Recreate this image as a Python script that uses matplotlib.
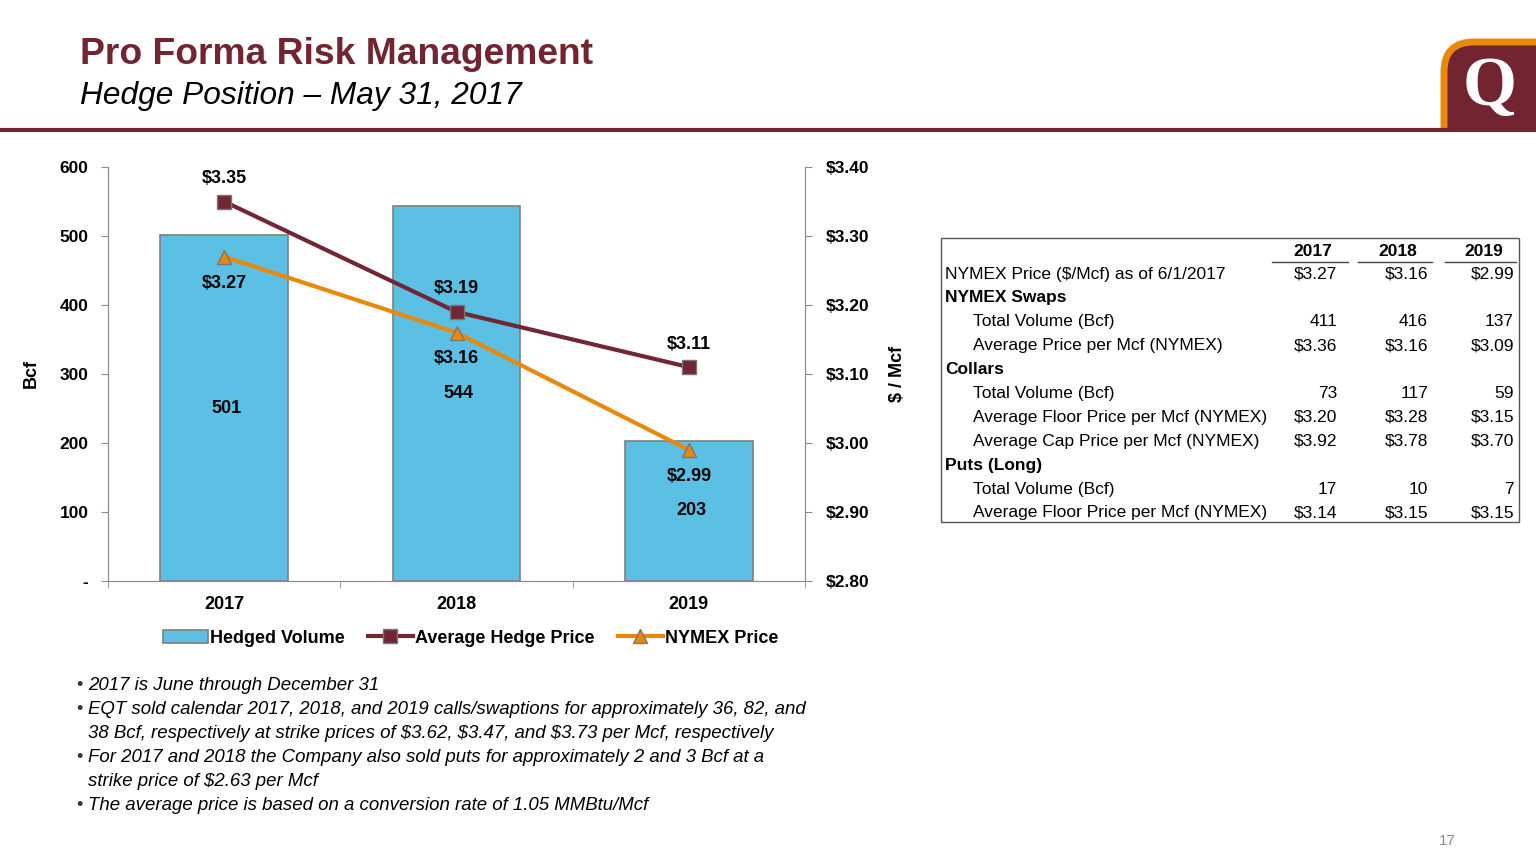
import matplotlib
matplotlib.use("Agg")
import matplotlib.pyplot as plt
from matplotlib.patches import FancyBboxPatch, Rectangle
from matplotlib.ticker import FuncFormatter

plt.rcParams['font.family'] = ['Liberation Sans', 'DejaVu Sans']

# chart data
years = ["2017", "2018", "2019"]
hedged_volume = [501, 544, 203]
avg_hedge_price = [3.35, 3.19, 3.11]
nymex_price = [3.27, 3.16, 2.99]

# table data
table_years = ["2017", "2018", "2019"]
table_rows = [
    ("NYMEX Price ($/Mcf) as of 6/1/2017", 0, ["$3.27", "$3.16", "$2.99"]),
    ("NYMEX Swaps", 1, None),
    ("Total Volume (Bcf)", 2, ["411", "416", "137"]),
    ("Average Price per Mcf (NYMEX)", 2, ["$3.36", "$3.16", "$3.09"]),
    ("Collars", 1, None),
    ("Total Volume (Bcf)", 2, ["73", "117", "59"]),
    ("Average Floor Price per Mcf (NYMEX)", 2, ["$3.20", "$3.28", "$3.15"]),
    ("Average Cap Price per Mcf (NYMEX)", 2, ["$3.92", "$3.78", "$3.70"]),
    ("Puts (Long)", 1, None),
    ("Total Volume (Bcf)", 2, ["17", "10", "7"]),
    ("Average Floor Price per Mcf (NYMEX)", 2, ["$3.14", "$3.15", "$3.15"]),
]

notes = [
    ["2017 is June through December 31"],
    ["EQT sold calendar 2017, 2018, and 2019 calls/swaptions for approximately 36, 82, and",
     "38 Bcf, respectively at strike prices of $3.62, $3.47, and $3.73 per Mcf, respectively"],
    ["For 2017 and 2018 the Company also sold puts for approximately 2 and 3 Bcf at a",
     "strike price of $2.63 per Mcf"],
    ["The average price is based on a conversion rate of 1.05 MMBtu/Mcf"],
]

maroon = "#722530"
bar_blue = "#5BC0E3"
line_maroon = "#722535"
orange = "#E8890C"
grey = "#8C8C8C"

fig = plt.figure(figsize=(15.36, 8.64), dpi=100)

# overlay axes in pixel coords for page decoration and the table
pg = fig.add_axes([0, 0, 1, 1])
pg.set_xlim(0, 1536)
pg.set_ylim(864, 0)
pg.axis("off")

pg.text(80, 54, "Pro Forma Risk Management", fontsize=26.8, fontweight="bold",
        color=maroon, va="center", ha="left")
pg.text(80, 96, "Hedge Position \u2013 May 31, 2017", fontsize=22.8, style="italic",
        color="black", va="center", ha="left")

# logo
pg.add_patch(FancyBboxPatch((1444, 42), 130, 130, boxstyle="round,pad=0,rounding_size=30",
                            fc=maroon, ec=orange, lw=5))
pg.text(1490, 88, "Q", fontsize=50, fontweight="bold", color="white",
        ha="center", va="center", family="Liberation Serif")
pg.add_patch(Rectangle((1430, 131), 110, 60, fc="white", ec="none", zorder=3))
pg.plot([0, 1536], [130, 130], color=maroon, lw=3, solid_capstyle="butt", zorder=4)

# page number
pg.text(1447, 841, "17", fontsize=11, color=grey, ha="center", va="center")

# bullet notes
y = 685
for note in notes:
    pg.text(76, y, "\u2022", fontsize=13, color="#333333", ha="left", va="center")
    for line in note:
        pg.text(88, y, line, fontsize=13.45, style="italic", color="black", ha="left", va="center")
        y += 23.5
    y += 1

# table
pg.add_patch(Rectangle((941, 238), 578, 284, fc="none", ec="#555555", lw=1))
col_right = [1337, 1428, 1514]
col_lines = [(1272, 1348), (1358, 1432), (1445, 1516)]
for yr, xr, (x0, x1) in zip(table_years, col_right, col_lines):
    pg.text((x0 + x1) / 2 + 3, 251, yr, fontsize=12.5, fontweight="bold", ha="center", va="center")
    pg.plot([x0, x1], [262, 262], color="#444444", lw=1)
ty = 274
for label, level, vals in table_rows:
    if level == 1:
        pg.text(945, ty, label, fontsize=12.5, fontweight="bold", ha="left", va="center")
    else:
        x = 945 if level == 0 else 973
        pg.text(x, ty, label, fontsize=12.5, ha="left", va="center")
    if vals:
        for v, xr in zip(vals, col_right):
            pg.text(xr, ty, v, fontsize=12.5, ha="right", va="center")
    ty += 23.9

# main chart
ax = fig.add_axes([108 / 1536, 1 - 581 / 864, 697 / 1536, 414 / 864])
ax2 = ax.twinx()
xs = list(range(len(years)))

bars = ax.bar(xs, hedged_volume, width=0.55, color=bar_blue, edgecolor="#7F7F7F",
              lw=1.2, label="Hedged Volume", zorder=2)
for x, v in zip(xs, hedged_volume):
    ax.text(x + 0.01, v / 2, str(v), fontsize=13, fontweight="bold", ha="center", va="center")

ax.set_xlim(-0.5, 2.5)
ax.set_ylim(0, 600)
ax.set_yticks(range(0, 601, 100))
ax.yaxis.set_major_formatter(FuncFormatter(lambda v, p: "-" if v == 0 else f"{v:.0f}"))
ax.set_xticks(xs)
ax.set_xticklabels(years)
ax.set_xticks([-0.5, 0.5, 1.5, 2.5], minor=True)
ax.tick_params(axis="x", which="major", length=0, pad=11, labelsize=13)
ax.tick_params(axis="x", which="minor", length=5, color=grey, direction="out")
ax.tick_params(axis="y", length=5, color=grey, labelsize=12.5, pad=9)
for lab in ax.get_xticklabels() + ax.get_yticklabels():
    lab.set_fontweight("bold")
ax.set_ylabel("Bcf", fontsize=13, fontweight="bold", labelpad=14)

ax2.set_ylim(2.80, 3.40)
ax2.set_yticks([2.80, 2.90, 3.00, 3.10, 3.20, 3.30, 3.40])
ax2.yaxis.set_major_formatter(FuncFormatter(lambda v, p: f"${v:.2f}"))
ax2.tick_params(axis="y", length=5, color=grey, labelsize=12.5, pad=10)
for lab in ax2.get_yticklabels():
    lab.set_fontweight("bold")
ax2.set_ylabel("$ / Mcf", fontsize=13, fontweight="bold", labelpad=14)

ax2.plot(xs, avg_hedge_price, color=line_maroon, lw=3, marker="s", markersize=10,
         markerfacecolor=line_maroon, markeredgecolor="#777777", label="Average Hedge Price", zorder=3)
ax2.plot(xs, nymex_price, color=orange, lw=3, marker="^", markersize=10,
         markerfacecolor=orange, markeredgecolor="#777777", label="NYMEX Price", zorder=3)
for x, v in zip(xs, avg_hedge_price):
    ax2.annotate(f"${v:.2f}", (x, v), xytext=(0, 16.5), textcoords="offset points",
                 ha="center", va="center", fontsize=13, fontweight="bold")
for x, v in zip(xs, nymex_price):
    ax2.annotate(f"${v:.2f}", (x, v), xytext=(0, -19), textcoords="offset points",
                 ha="center", va="center", fontsize=13, fontweight="bold")

for a in (ax, ax2):
    a.spines["top"].set_visible(False)
    for s in ("left", "right", "bottom"):
        a.spines[s].set_color(grey)
ax.set_zorder(ax2.get_zorder() - 1)
ax.patch.set_visible(False)

h1, l1 = ax.get_legend_handles_labels()
h2, l2 = ax2.get_legend_handles_labels()
leg = ax.legend(h1 + h2, l1 + l2, loc="center", bbox_to_anchor=(0.52, -0.138), ncol=3,
                frameon=False, handlelength=2.5, handletextpad=0.1, columnspacing=1.3,
                prop={"weight": "bold", "size": 13})

fig.savefig("out.png", dpi=100)
